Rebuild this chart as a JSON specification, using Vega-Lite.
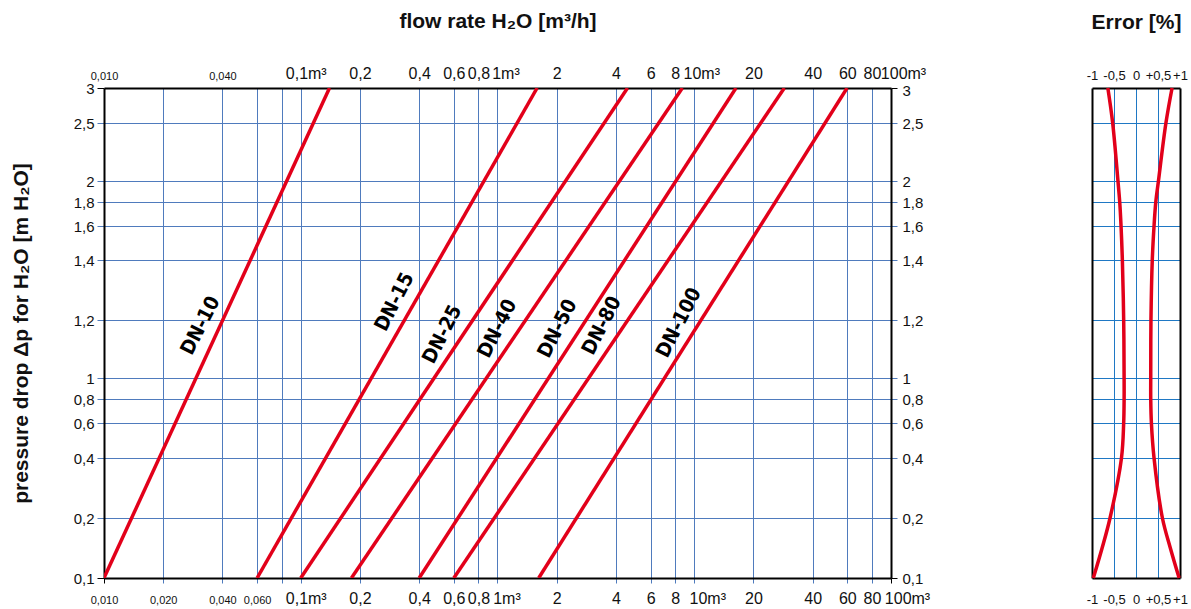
{
  "$schema": "https://vega.github.io/schema/vega-lite/v6.json",
  "padding": {"left": 10, "top": 10, "right": 4, "bottom": 2},
  "bounds": "flush",
  "spacing": 201,
  "datasets": {
    "dn": [
      {"dn": "DN-10", "flow": 0.01, "dp": 0.1}, {"dn": "DN-10", "flow": 0.14, "dp": 3},
      {"dn": "DN-15", "flow": 0.06, "dp": 0.1}, {"dn": "DN-15", "flow": 1.59, "dp": 3},
      {"dn": "DN-25", "flow": 0.1, "dp": 0.1}, {"dn": "DN-25", "flow": 4.58, "dp": 3},
      {"dn": "DN-40", "flow": 0.181, "dp": 0.1}, {"dn": "DN-40", "flow": 8.7, "dp": 3},
      {"dn": "DN-50", "flow": 0.4, "dp": 0.1}, {"dn": "DN-50", "flow": 16.3, "dp": 3},
      {"dn": "DN-80", "flow": 0.6, "dp": 0.1}, {"dn": "DN-80", "flow": 28.7, "dp": 3},
      {"dn": "DN-100", "flow": 1.62, "dp": 0.1}, {"dn": "DN-100", "flow": 59.8, "dp": 3}
    ],
    "labels": [
      {"dn": "DN-10", "flow": 0.031, "dp": 1.18},
      {"dn": "DN-15", "flow": 0.30, "dp": 1.26},
      {"dn": "DN-25", "flow": 0.525, "dp": 1.15},
      {"dn": "DN-40", "flow": 1.0, "dp": 1.17},
      {"dn": "DN-50", "flow": 2.02, "dp": 1.17},
      {"dn": "DN-80", "flow": 3.39, "dp": 1.18},
      {"dn": "DN-100", "flow": 8.36, "dp": 1.19}
    ],
    "err": [
      {"side": "left", "dp": 0.1, "err": -0.97}, {"side": "left", "dp": 0.15, "err": -0.77},
      {"side": "left", "dp": 0.2, "err": -0.59}, {"side": "left", "dp": 0.4, "err": -0.33},
      {"side": "left", "dp": 0.6, "err": -0.28}, {"side": "left", "dp": 0.8, "err": -0.27},
      {"side": "left", "dp": 1, "err": -0.27}, {"side": "left", "dp": 1.2, "err": -0.28},
      {"side": "left", "dp": 1.4, "err": -0.31}, {"side": "left", "dp": 1.6, "err": -0.34},
      {"side": "left", "dp": 1.8, "err": -0.37}, {"side": "left", "dp": 2, "err": -0.41},
      {"side": "left", "dp": 2.5, "err": -0.53}, {"side": "left", "dp": 3, "err": -0.64},
      {"side": "right", "dp": 0.1, "err": 0.98}, {"side": "right", "dp": 0.15, "err": 0.78},
      {"side": "right", "dp": 0.2, "err": 0.6}, {"side": "right", "dp": 0.4, "err": 0.41},
      {"side": "right", "dp": 0.6, "err": 0.35}, {"side": "right", "dp": 0.8, "err": 0.335},
      {"side": "right", "dp": 1, "err": 0.335}, {"side": "right", "dp": 1.2, "err": 0.34},
      {"side": "right", "dp": 1.4, "err": 0.37}, {"side": "right", "dp": 1.6, "err": 0.41},
      {"side": "right", "dp": 1.8, "err": 0.45}, {"side": "right", "dp": 2, "err": 0.51},
      {"side": "right", "dp": 2.5, "err": 0.68}, {"side": "right", "dp": 3, "err": 0.82}
    ]
  },
  "hconcat": [
    {
      "width": 787,
      "height": 490,
      "layer": [
        {
          "data": {"name": "dn"},
          "mark": {"type": "line", "color": "#e2001a", "strokeWidth": 3.5, "clip": true},
          "encoding": {
            "x": {
              "field": "flow", "type": "quantitative",
              "scale": {"type": "log", "domain": [0.01, 100], "nice": false},
              "axis": {
                "orient": "bottom",
                "values": [0.01, 0.02, 0.04, 0.06, 0.08, 0.1, 0.2, 0.4, 0.6, 0.8, 1, 2, 4, 6, 8, 10, 20, 40, 60, 80, 100],
                "labelExpr": "datum.value == 0.01 ? '0,010' : datum.value == 0.02 ? '0,020' : datum.value == 0.04 ? '0,040' : datum.value == 0.06 ? '0,060' : datum.value == 0.08 ? '' : datum.value == 0.1 ? '0,1m³' : datum.value == 1 ? '1m³' : datum.value == 10 ? '10m³' : datum.value == 100 ? '100m³' : replace(toString(datum.value), '.', ',')",
                "grid": true,
                "gridColor": "#4f7bbd",
                "gridOpacity": {"condition": {"test": "datum.value == 0.01 || datum.value == 100", "value": 0}, "value": 1},
                "ticks": true,
                "tickSize": 5,
                "tickColor": {"condition": {"test": "datum.value == 0.01 || datum.value == 100", "value": "#000000"}, "value": "#4f7bbd"},
                "labelFontSize": {"condition": {"test": "datum.value < 0.07", "value": 11}, "value": 16},
                "labelBaseline": "alphabetic",
                "labelPadding": 20,
                "labelOffset": {"condition": [
                  {"test": "datum.value == 0.1", "value": 5},
                  {"test": "datum.value == 1", "value": 9},
                  {"test": "datum.value == 10", "value": 13},
                  {"test": "datum.value == 100", "value": 16}
                ], "value": 0},
                "labelFlush": false,
                "labelOverlap": false,
                "title": null
              }
            },
            "y": {
              "field": "dp", "type": "quantitative",
              "scale": {"type": "linear", "domain": [0.1, 0.2, 0.4, 0.6, 0.8, 1, 1.2, 1.4, 1.6, 1.8, 2, 2.5, 3], "range": [490, 430, 370, 335, 311, 290, 232, 172, 138, 114, 93, 35, 0], "zero": false, "nice": false},
              "axis": {
                "orient": "left",
                "values": [0.1, 0.2, 0.4, 0.6, 0.8, 1, 1.2, 1.4, 1.6, 1.8, 2, 2.5, 3],
                "labelExpr": "replace(toString(datum.value), '.', ',')",
                "grid": true,
                "gridColor": "#4f7bbd",
                "gridOpacity": {"condition": {"test": "datum.value == 0.1 || datum.value == 3", "value": 0}, "value": 1},
                "tickSize": 7,
                "tickColor": {"condition": {"test": "datum.value == 0.1 || datum.value == 3", "value": "#000000"}, "value": "#4f7bbd"},
                "labelPadding": 3,
                "labelFontSize": 15,
                "labelOverlap": false,
                "title": "pressure drop Δp for H₂O [m H₂O]",
                "titlePadding": 42
              }
            },
            "detail": {"field": "dn"}
          }
        },
        {
          "data": {"name": "labels"},
          "mark": {"type": "text", "angle": -63, "font": "DejaVu Sans Condensed, DejaVu Sans, sans-serif", "fontWeight": "bold", "fontSize": 20, "color": "#000000"},
          "encoding": {
            "x": {
              "field": "flow", "type": "quantitative",
              "scale": {"type": "log", "domain": [0.01, 100], "nice": false},
              "axis": {
                "orient": "top",
                "values": [0.01, 0.02, 0.04, 0.06, 0.08, 0.1, 0.2, 0.4, 0.6, 0.8, 1, 2, 4, 6, 8, 10, 20, 40, 60, 80, 100],
                "labelExpr": "datum.value == 0.01 ? '0,010' : datum.value == 0.04 ? '0,040' : (datum.value == 0.02 || datum.value == 0.06 || datum.value == 0.08) ? '' : datum.value == 0.1 ? '0,1m³' : datum.value == 1 ? '1m³' : datum.value == 10 ? '10m³' : datum.value == 100 ? '100m³' : replace(toString(datum.value), '.', ',')",
                "grid": false,
                "ticks": false,
                "labelFontSize": {"condition": {"test": "datum.value < 0.07", "value": 11}, "value": 16},
                "labelPadding": 7,
                "labelOffset": {"condition": [
                  {"test": "datum.value == 0.1", "value": 5},
                  {"test": "datum.value == 1", "value": 8},
                  {"test": "datum.value == 10", "value": 7},
                  {"test": "datum.value == 100", "value": 12}
                ], "value": 0},
                "labelFlush": false,
                "labelOverlap": false,
                "title": "flow rate H₂O [m³/h]",
                "titlePadding": 34
              }
            },
            "y": {
              "field": "dp", "type": "quantitative",
              "scale": {"type": "linear", "domain": [0.1, 0.2, 0.4, 0.6, 0.8, 1, 1.2, 1.4, 1.6, 1.8, 2, 2.5, 3], "range": [490, 430, 370, 335, 311, 290, 232, 172, 138, 114, 93, 35, 0], "zero": false, "nice": false},
              "axis": {
                "orient": "right",
                "values": [0.1, 0.2, 0.4, 0.6, 0.8, 1, 1.2, 1.4, 1.6, 1.8, 2, 2.5, 3],
                "labelExpr": "replace(toString(datum.value), '.', ',')",
                "grid": false,
                "tickSize": 6,
                "tickColor": {"condition": {"test": "datum.value == 0.1 || datum.value == 3", "value": "#000000"}, "value": "#4f7bbd"},
                "labelPadding": 5,
                "labelFontSize": 15,
                "labelOffset": {"condition": {"test": "datum.value == 3", "value": 2}, "value": 0},
                "labelOverlap": false,
                "title": null
              }
            },
            "text": {"field": "dn", "type": "nominal"}
          }
        }
      ],
      "resolve": {"axis": {"x": "independent", "y": "independent"}}
    },
    {
      "width": 88,
      "height": 490,
      "layer": [
        {
          "data": {"name": "err"},
          "transform": [{"filter": "datum.side == 'left'"}],
          "mark": {"type": "line", "color": "#e2001a", "strokeWidth": 3.5, "interpolate": "catmull-rom"},
          "encoding": {
            "x": {
              "field": "err", "type": "quantitative",
              "scale": {"domain": [-1, 1], "nice": false, "zero": false},
              "axis": {
                "orient": "bottom",
                "values": [-1, -0.5, 0, 0.5, 1],
                "labelExpr": "datum.value == -1 ? '-1' : datum.value == -0.5 ? '-0,5' : datum.value == 0 ? '0' : datum.value == 0.5 ? '+0,5' : '+1'",
                "grid": true,
                "gridColor": "#1f78c4",
                "gridOpacity": {"condition": {"test": "datum.value == -1 || datum.value == 1", "value": 0}, "value": 1},
                "ticks": false,
                "labelFontSize": 13,
                "labelBaseline": "alphabetic",
                "labelPadding": 25,
                "labelFlush": false,
                "labelOverlap": false,
                "title": null
              }
            },
            "y": {
              "field": "dp", "type": "quantitative",
              "scale": {"type": "linear", "domain": [0.1, 0.2, 0.4, 0.6, 0.8, 1, 1.2, 1.4, 1.6, 1.8, 2, 2.5, 3], "range": [490, 430, 370, 335, 311, 290, 232, 172, 138, 114, 93, 35, 0], "zero": false, "nice": false},
              "axis": {
                "orient": "left",
                "values": [0.1, 0.2, 0.4, 0.6, 0.8, 1, 1.2, 1.4, 1.6, 1.8, 2, 2.5, 3],
                "labels": false,
                "ticks": false,
                "grid": true,
                "gridColor": "#1f78c4",
                "gridOpacity": {"condition": {"test": "datum.value == 0.1 || datum.value == 3", "value": 0}, "value": 1},
                "title": null
              }
            },
            "order": {"field": "dp", "type": "quantitative"}
          }
        },
        {
          "data": {"name": "err"},
          "transform": [{"filter": "datum.side == 'right'"}],
          "mark": {"type": "line", "color": "#e2001a", "strokeWidth": 3.5, "interpolate": "catmull-rom"},
          "encoding": {
            "x": {
              "field": "err", "type": "quantitative",
              "scale": {"domain": [-1, 1], "nice": false, "zero": false},
              "axis": {
                "orient": "top",
                "values": [-1, -0.5, 0, 0.5, 1],
                "labelExpr": "datum.value == -1 ? '-1' : datum.value == -0.5 ? '-0,5' : datum.value == 0 ? '0' : datum.value == 0.5 ? '+0,5' : '+1'",
                "grid": false,
                "ticks": false,
                "labelFontSize": 13,
                "labelPadding": 6,
                "labelFlush": false,
                "labelOverlap": false,
                "title": "Error [%]",
                "titlePadding": 37
              }
            },
            "y": {
              "field": "dp", "type": "quantitative",
              "scale": {"type": "linear", "domain": [0.1, 0.2, 0.4, 0.6, 0.8, 1, 1.2, 1.4, 1.6, 1.8, 2, 2.5, 3], "range": [490, 430, 370, 335, 311, 290, 232, 172, 138, 114, 93, 35, 0], "zero": false, "nice": false},
              "axis": {
                "orient": "right",
                "values": [0.1, 0.2, 0.4, 0.6, 0.8, 1, 1.2, 1.4, 1.6, 1.8, 2, 2.5, 3],
                "labels": false,
                "ticks": false,
                "grid": false,
                "title": null
              }
            },
            "order": {"field": "dp", "type": "quantitative"}
          }
        }
      ],
      "resolve": {"axis": {"x": "independent", "y": "independent"}}
    }
  ],
  "config": {
    "view": {"stroke": null},
    "axis": {
      "labelFont": "Liberation Sans, Arial, sans-serif",
      "labelColor": "#111111",
      "titleFont": "Liberation Sans, Arial, sans-serif",
      "titleFontWeight": "bold",
      "titleFontSize": 21,
      "titleColor": "#111111",
      "domainColor": "#000000",
      "domainWidth": 2,
      "gridWidth": 1,
      "tickWidth": 1
    }
  }
}
